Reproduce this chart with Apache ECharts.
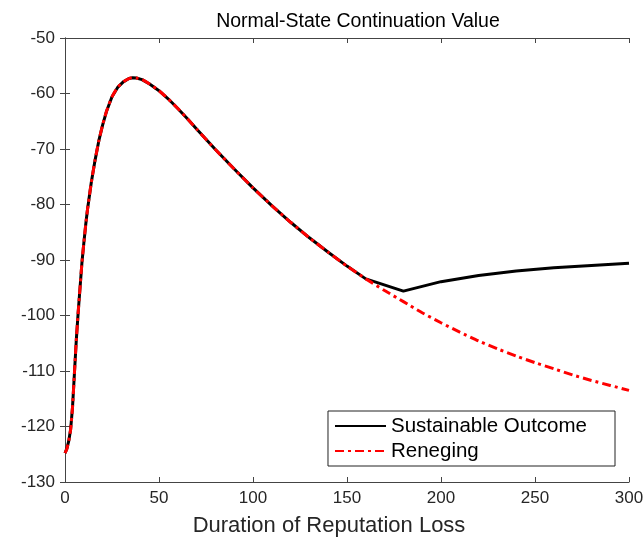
<!DOCTYPE html>
<html>
<head>
<meta charset="utf-8">
<script src="https://cdn.jsdelivr.net/npm/echarts@6/dist/echarts.min.js"></script>
<style>
  html, body { margin: 0; padding: 0; background: #fff; }
  #chart { width: 644px; height: 539px; }
</style>
</head>
<body>
<div id="chart"></div>
<script>
// shared part of both curves (duration, value)
var commonT = [0, 1, 2, 3, 4, 5, 6, 7, 8, 9, 10, 11, 12, 14, 16, 18, 20, 22, 25, 28, 31, 34, 36, 38, 41, 45, 50, 55, 60, 65, 70, 80, 90, 100, 110, 120, 130, 140, 150, 160];
var commonV = [-124.8, -124.0, -122.6, -120.5, -116.5, -110.5, -104.5, -99.5, -95.0, -90.5, -87.0, -83.7, -80.8, -76.0, -72.0, -68.5, -65.7, -63.3, -60.6, -58.9, -57.9, -57.3, -57.15, -57.2, -57.5, -58.3, -59.5, -61.0, -62.7, -64.5, -66.4, -70.1, -73.6, -77.0, -80.2, -83.2, -86.0, -88.6, -91.1, -93.4];

// sustainable outcome after 160
var sustT = [180, 200, 220, 240, 260, 280, 300];
var sustV = [-95.6, -93.9, -92.8, -92.0, -91.4, -91.0, -90.6];

// reneging after 160
var renegT = [170, 180, 190, 200, 210, 220, 230, 240, 250, 260, 270, 280, 290, 300];
var renegV = [-95.5, -97.5, -99.5, -101.3, -103.0, -104.6, -106.0, -107.3, -108.5, -109.6, -110.7, -111.7, -112.6, -113.5];

function pairs(ts, vs) {
    var out = [];
    for (var i = 0; i < ts.length; i++) out.push([ts[i], vs[i]]);
    return out;
}

var sustData = pairs(commonT, commonV).concat(pairs(sustT, sustV));
var renegData = pairs(commonT, commonV).concat(pairs(renegT, renegV));

var axisCol = '#444';
var txtCol = '#262626';
var font = 'Liberation Sans, Arial, sans-serif';

var chart = echarts.init(document.getElementById('chart'));
var option = {
    animation: false,
    title: {
        text: 'Normal-State Continuation Value',
        left: 353,
        textAlign: 'center',
        top: 7,
        textStyle: { fontFamily: font, fontSize: 19.5, fontWeight: 'normal', color: '#000' }
    },
    grid: { left: 65, top: 38, right: 15, bottom: 57, outerBoundsMode: 'none' },
    legend: {
        orient: 'vertical',
        right: 29,
        top: 411,
        padding: [4, 28, 4, 6],
        itemGap: 3,
        itemWidth: 51,
        itemHeight: 14,
        borderColor: '#222',
        borderWidth: 1,
        itemStyle: { opacity: 0 },
        textStyle: { fontFamily: font, fontSize: 20.5, lineHeight: 22, color: '#000' },
        data: ['Sustainable Outcome', 'Reneging']
    },
    xAxis: [{
        type: 'value', min: 0, max: 300, interval: 50,
        name: 'Duration of Reputation Loss', nameLocation: 'middle', nameGap: 33,
        nameTextStyle: { fontFamily: font, fontSize: 22, color: txtCol, padding: [0, 36, 0, 0] },
        axisLine: { show: true, lineStyle: { color: axisCol, width: 1 } },
        axisTick: { show: true, inside: true, length: 5, lineStyle: { color: axisCol } },
        axisLabel: { fontFamily: font, fontSize: 17, color: txtCol, margin: 8 },
        splitLine: { show: false }
    }, {
        type: 'value', min: 0, max: 300, interval: 50, position: 'top',
        axisLine: { show: true, lineStyle: { color: axisCol, width: 1 } },
        axisTick: { show: true, inside: true, length: 5, lineStyle: { color: axisCol } },
        axisLabel: { show: false },
        splitLine: { show: false }
    }],
    yAxis: [{
        type: 'value', min: -130, max: -50, interval: 10,
        axisLine: { show: true, lineStyle: { color: axisCol, width: 1 } },
        axisTick: { show: true, inside: true, length: 5, lineStyle: { color: axisCol } },
        axisLabel: { fontFamily: font, fontSize: 17, color: txtCol, margin: 10 },
        splitLine: { show: false }
    }, {
        type: 'value', min: -130, max: -50, interval: 10, position: 'right',
        axisLine: { show: true, lineStyle: { color: axisCol, width: 1 } },
        axisTick: { show: true, inside: true, length: 5, lineStyle: { color: axisCol } },
        axisLabel: { show: false },
        splitLine: { show: false }
    }],
    series: [{
        name: 'Sustainable Outcome',
        type: 'line',
        data: sustData,
        showSymbol: false,
        symbol: 'none',
        smooth: false,
        lineStyle: { color: '#000', width: 3 },
        itemStyle: { color: '#000' }
    }, {
        name: 'Reneging',
        type: 'line',
        data: renegData,
        showSymbol: false,
        symbol: 'none',
        smooth: 0.2,
        lineStyle: { color: '#ff0000', width: 3, type: [9, 4, 3, 4] },
        itemStyle: { color: '#ff0000' }
    }]
};
chart.setOption(option);
</script>
</body>
</html>
